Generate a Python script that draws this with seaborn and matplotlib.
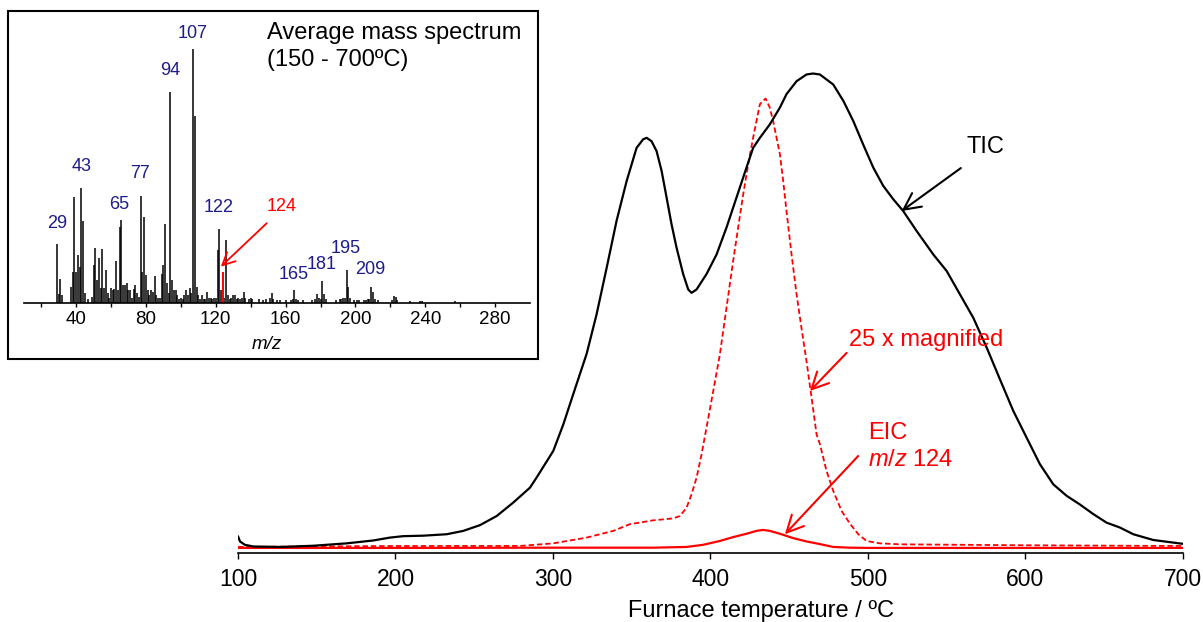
import pandas as pd
import matplotlib.pyplot as plt
from matplotlib.patches import Rectangle
import seaborn as sns

# TIC
temp_tic = [100, 101.3, 104.4, 109.7, 126.7, 147.8, 169, 185.9, 196.5, 205, 217.7, 232.5, 243.1,
            253.7, 264.3, 274.8, 285.4, 289.6, 300.2, 306.6, 312.9, 321.4, 327.7, 334.1,
            340.4, 346.8, 353.1, 357.3, 359.5, 362.6, 365.8, 369, 372.2, 375.3, 378.5, 382.7,
            385.9, 388, 391.2, 397.5, 403.9, 410.2, 416.5, 422.9, 427.1, 431.4, 437.7, 444.1,
            448.3, 454.7, 461, 465.2, 469.5, 478, 484.4, 490.7, 497, 503.4, 509.7, 516.1, 522.4,
            530.9, 541.5, 550, 558.4, 566.9, 575.4, 583.8, 592.3, 600.8, 609.2, 617.7, 626.2,
            634.6, 643.1, 651.6, 660, 668.5, 681.2, 700]
tic = [3.5, 2.4, 1.7, 1.35, 1.25, 1.5, 2.0, 2.6, 3.2, 3.5, 3.6, 3.9, 4.6,
       5.8, 7.7, 10.5, 13.6, 15.7, 21.25, 26.8, 33.1, 41.5, 49.7, 59.4,
       69.2, 77.5, 84.4, 86.2, 86.5, 85.8, 83.75, 79.6, 74, 68.5, 63.6, 58.1,
       54.9, 54.2, 54.9, 58.1, 62.2, 67.8, 74, 80.3, 84.4, 86.5, 89.3, 92.8,
       95.6, 98.3, 99.7, 99.9, 99.7, 97.6, 94.2, 90, 85.1, 80.3, 76.5, 73.7, 71.25,
       67.1, 62.2, 58.75, 53.9, 49, 42.8, 36.2, 29.6, 24, 18.5, 14.3, 11.9,
       10.1, 8.1, 6.3, 5.3, 3.9, 2.7, 1.9]

# EIC m/z 124, 25 x magnified
temp_mag = [100, 200, 279, 300.2, 321.4, 338.3, 348.9, 363.7, 376.4, 380.6, 384.8, 388, 391.2,
            394.4, 397.5, 401.8, 406, 410.2, 414.4, 417.6, 420.8, 424, 427.1, 431.4, 435,
            437.7, 439.8, 442, 444.1, 446.2, 448.3, 451.5, 454.7, 457.8, 461, 464.2, 467.4,
            469.5, 473.7, 478, 483.3, 488.6, 493.9, 499.1, 507.6, 520.3, 600, 700]
mag = [1.25, 1.45, 1.46, 2.0, 3.2, 4.6, 6.0, 6.8, 7.2, 7.7, 9.4, 12.2, 15.7,
       20.6, 26.1, 33.75, 41.4, 51.1, 60.8, 67.8, 74.7, 81, 86.5, 93.5, 94.7,
       92.8, 90, 86.5, 83.1, 77.5, 71.25, 62.2, 53.9, 46.9, 40, 32.4, 24.7,
       22.7, 17.1, 12.9, 8.75, 6.1, 3.9, 2.5, 2.0, 1.8, 1.6, 1.45]

# EIC m/z 124, raw
temp_eic = [100, 200, 300, 363.7, 384.8, 395.4, 406, 414.4, 422.9, 429.2, 433.4, 437.7, 444.1,
            452.5, 461, 469.5, 478, 488.6, 500, 600, 700]
eic = [1.05, 1.05, 1.1, 1.1, 1.25, 1.7, 2.5, 3.3, 4.0, 4.6, 4.8, 4.6, 4.0,
       3.1, 2.4, 1.85, 1.25, 1.1, 1.05, 1.05, 1.05]

# average mass spectrum (relative abundance, 107 = 100)
mz = [29, 30, 31, 32, 37, 38, 39, 40, 41, 42, 43, 44, 45, 47, 49, 50, 51, 52, 53, 54, 55, 56, 57,
      58, 59, 60, 61, 62, 63, 64, 65, 66, 67, 68, 69, 70, 71, 72, 73, 74, 75, 76, 77, 78, 79, 80,
      81, 82, 83, 84, 85, 86, 87, 88, 89, 90, 91, 92, 93, 94, 95, 96, 97, 98, 99, 100, 101, 102,
      103, 104, 105, 106, 107, 108, 109, 110, 111, 112, 113, 114, 115, 116, 117, 118, 119, 120,
      121, 122, 123, 125, 126, 127, 128, 129, 130, 131, 132, 133, 134, 135, 136, 137, 139, 140,
      141, 145, 147, 149, 151, 152, 153, 155, 157, 160, 163, 164, 165, 166, 167, 170, 175, 177,
      178, 179, 180, 181, 182, 183, 189, 191, 192, 193, 194, 195, 196, 197, 199, 201, 202, 205,
      206, 207, 208, 209, 210, 211, 213, 221, 222, 223, 224, 231, 237, 238, 257]
abund = [23.1, 3.5, 9.6, 3.0, 6.2, 12, 41.6, 12.3, 18.9, 14.3, 45.4, 32.4, 4, 1.5, 2.5, 15, 21.8,
         9, 17.6, 6, 21.4, 6, 13, 4, 2, 6, 5, 5.5, 16.5, 5, 30, 32.5, 7, 7, 8, 5, 5, 2, 5.5, 7, 4,
         2.5, 42.3, 12.3, 33.9, 11, 5, 3, 5, 4.5, 10.6, 3, 2, 2, 11.3, 15, 31, 8, 4, 83, 9, 5, 5,
         3, 1.5, 2, 1.5, 3, 5, 3, 6, 4, 100, 73.7, 6.2, 3, 1.5, 3, 1.5, 1.5, 4.5, 2, 2, 1.5, 2, 2,
         20.9, 29, 5, 2, 24.8, 3, 1.5, 2, 3, 3, 1.5, 2, 1.5, 2, 4.4, 2, 1.5, 2, 1.5, 1.6, 1.2, 1.5,
         2, 3.8, 1.5, 1.2, 1, 1, 1.2, 1.5, 5.1, 1.5, 1, 1, 1, 1.5, 3.5, 2, 1.5, 8.8, 3.5, 1.5, 1.2,
         1.5, 1.5, 2, 2, 13, 6.2, 2, 1, 1, 1.2, 1, 1.2, 1.5, 1.5, 6.4, 4.5, 1.5, 1, 1.2, 2.9, 2.5,
         1, 0.6, 0.8, 0.8, 0.6]
mz_124 = [124]
abund_124 = [12.1]

peak_text = ["29", "43", "65", "77", "94", "107", "122", "165", "181", "195", "209"]
peak_x = [28.9, 43.2, 64.8, 76.6, 93.8, 106.8, 121.9, 164.4, 180.7, 194.6, 208.4]
peak_y = [31.4, 53.9, 38.6, 51.1, 91.7, 105.9, 37.7, 11.4, 15.2, 21.5, 13.0]

sns.set_theme(style="white")
plt.rcParams['font.family'] = ['Liberation Sans', 'DejaVu Sans']
plt.rcParams['mathtext.fontset'] = 'custom'
plt.rcParams['mathtext.rm'] = 'Liberation Sans'
plt.rcParams['mathtext.it'] = 'Liberation Sans:italic'
plt.rcParams['text.color'] = 'black'
plt.rcParams['axes.labelcolor'] = 'black'
plt.rcParams['xtick.color'] = 'black'

red = '#FF0000'
navy = '#1C1C8C'

fig = plt.figure(figsize=(12.03, 6.22), dpi=100)

# main thermogram
ax = fig.add_axes([0.1978, 0.111, 0.7855, 0.787])
ax.set_facecolor('none')
df_tic = pd.DataFrame({'temp': temp_tic, 'val': tic})
df_mag = pd.DataFrame({'temp': temp_mag, 'val': mag})
df_eic = pd.DataFrame({'temp': temp_eic, 'val': eic})
sns.lineplot(data=df_mag, x='temp', y='val', ax=ax, color=red, lw=1.3, linestyle=(0, (3, 1.6)))
sns.lineplot(data=df_eic, x='temp', y='val', ax=ax, color=red, lw=1.6)
sns.lineplot(data=df_tic, x='temp', y='val', ax=ax, color='black', lw=1.6)

ax.set_xlim(100, 700)
ax.set_ylim(0, 102)
ax.set_xticks(range(100, 701, 100))
ax.set_yticks([])
ax.set_ylabel('')
ax.set_xlabel('Furnace temperature / ºC', fontsize=17, labelpad=7)
ax.xaxis.set_label_coords(0.553, -0.096)
sns.despine(ax=ax, left=True)
ax.spines['bottom'].set_color('black')
ax.spines['bottom'].set_linewidth(1.2)
ax.tick_params(axis='x', bottom=True, direction='out', length=4, width=1, color='black',
               labelsize=16.5, pad=7)

arr = '->,head_length=0.6,head_width=0.3'
ax.annotate('', xy=(521.4, 71.25), xytext=(559, 80.2),
            arrowprops=dict(arrowstyle=arr, color='black', lw=1.5, mutation_scale=20,
                            shrinkA=0, shrinkB=0))
ax.text(574.3, 84.6, 'TIC', fontsize=17, ha='center', va='center')

ax.annotate('', xy=(463.2, 33.75), xytext=(486.5, 41.7),
            arrowprops=dict(arrowstyle=arr, color=red, lw=1.5, mutation_scale=20,
                            shrinkA=0, shrinkB=0))
ax.text(488.3, 44.4, '25 x magnified', fontsize=17, color=red, ha='left', va='center')

ax.annotate('', xy=(447.3, 3.9), xytext=(493.8, 20.2),
            arrowprops=dict(arrowstyle=arr, color=red, lw=1.5, mutation_scale=20,
                            shrinkA=0, shrinkB=0))
ax.text(500, 25.0, 'EIC', fontsize=17, color=red, ha='left', va='center')
ax.text(500, 19.4, r'$\mathit{m/z}$ 124', fontsize=17, color=red, ha='left', va='center')

# inset box
fig.add_artist(Rectangle((0.00665, 0.4228), 0.4406, 0.5595, transform=fig.transFigure,
                         fill=False, edgecolor='black', lw=1.5))

# inset spectrum
axi = fig.add_axes([0.0197, 0.5129, 0.4209, 0.4084])
axi.set_facecolor('none')
axi.vlines(mz, 0, abund, color='black', lw=1.1)
axi.vlines(mz_124, 0, abund_124, color=red, lw=1.4)
axi.set_xlim(10, 300)
axi.set_ylim(0, 100)
axi.set_yticks([])
axi.set_xticks(range(20, 300, 20))
axi.set_xticklabels([str(v) if v % 40 == 0 else '' for v in range(20, 300, 20)])
sns.despine(ax=axi, left=True)
axi.spines['bottom'].set_color('black')
axi.spines['bottom'].set_linewidth(1.2)
axi.tick_params(axis='x', bottom=True, direction='out', length=3, width=1, color='black',
                labelsize=13.5, pad=3)
axi.set_xlabel('m/z', fontsize=13.5, style='italic', labelpad=3)
axi.xaxis.set_label_coords(0.48, -0.13)

for t, x, y in zip(peak_text, peak_x, peak_y):
    axi.text(x, y, t, fontsize=13, color=navy, ha='center', va='center', clip_on=False)
axi.text(157.8, 37.9, '124', fontsize=13, color=red, ha='center', va='center')
axi.annotate('', xy=(122.9, 14.3), xytext=(149.2, 31.4),
             arrowprops=dict(arrowstyle=arr, color=red, lw=1.3, mutation_scale=15,
                             shrinkA=0, shrinkB=0))
axi.text(149.2, 106.4, 'Average mass spectrum', fontsize=17, ha='left', va='center', clip_on=False)
axi.text(149.2, 95.7, '(150 - 700ºC)', fontsize=17, ha='left', va='center', clip_on=False)

fig.savefig('out.png', dpi=100)
